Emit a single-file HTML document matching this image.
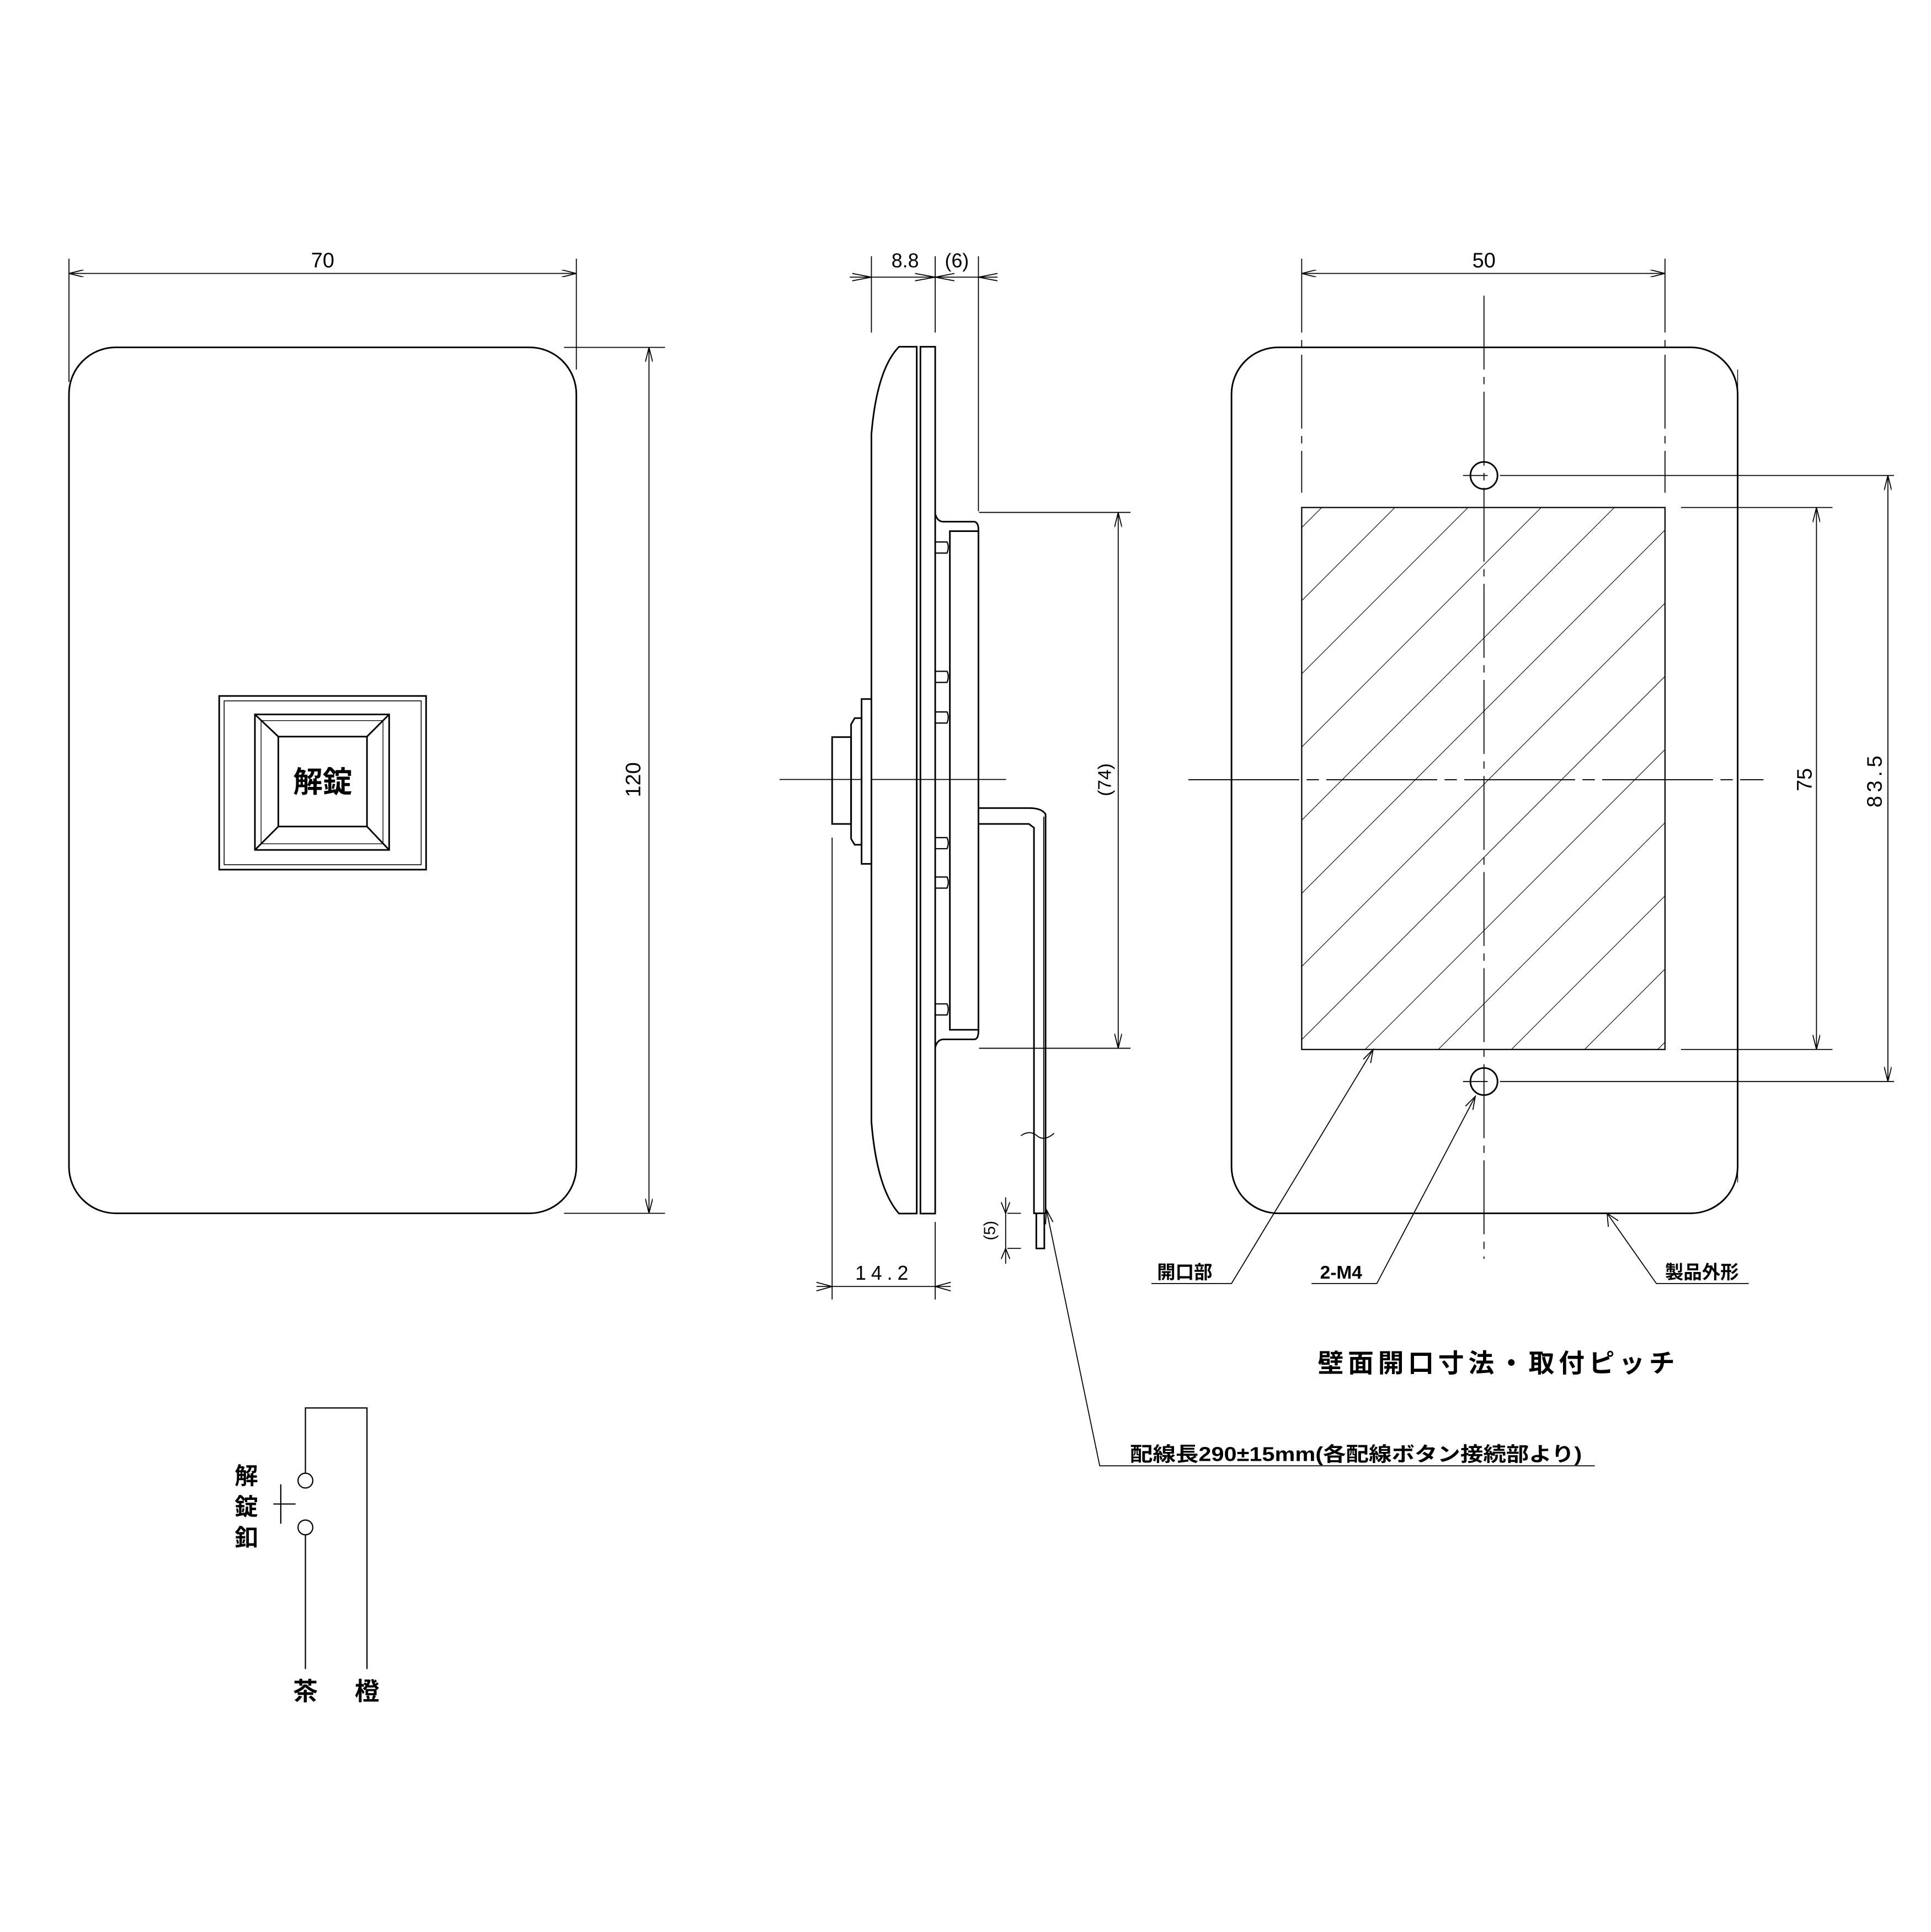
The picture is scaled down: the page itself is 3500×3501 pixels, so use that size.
<!DOCTYPE html>
<html><head><meta charset="utf-8"><style>
html,body{margin:0;padding:0;background:#fff;}
svg{display:block;}
text{font-family:"Liberation Sans","Noto Sans CJK JP",sans-serif;fill:#000;}
</style></head><body>
<svg width="3500" height="3501" viewBox="0 0 1568 1568.45" xmlns="http://www.w3.org/2000/svg">
<defs>
<marker id="a" viewBox="0 0 12 6" refX="12" refY="3" markerWidth="12" markerHeight="6" orient="auto-start-reverse" markerUnits="userSpaceOnUse"><path d="M0,0 L12,3 L0,6" fill="none" stroke="#000" stroke-width="0.8"/></marker>
<pattern id="h" patternUnits="userSpaceOnUse" width="42" height="42" patternTransform="rotate(45)"><line x1="0" y1="0" x2="0" y2="42" stroke="#000" stroke-width="1"/></pattern>
</defs>
<g fill="none" stroke="#000" stroke-width="1.3">
<!-- FRONT VIEW -->
<rect x="56" y="282" width="412" height="703" rx="38"/>
<g stroke-width="0.8">
<line x1="56" y1="210" x2="56" y2="310"/><line x1="468" y1="210" x2="468" y2="300"/>
<line x1="56" y1="222" x2="468" y2="222" marker-start="url(#a)" marker-end="url(#a)"/>
<line x1="458" y1="282" x2="540" y2="282"/><line x1="458" y1="985" x2="540" y2="985"/>
<line x1="527" y1="282" x2="527" y2="985" marker-start="url(#a)" marker-end="url(#a)"/>
</g>
<rect x="178" y="565" width="168" height="141"/>
<rect x="182" y="569" width="160" height="133" stroke-width="0.7"/>
<rect x="207" y="580" width="109" height="110"/>
<rect x="226" y="598" width="72" height="73"/>
<line x1="207" y1="580" x2="226" y2="598"/><line x1="316" y1="580" x2="298" y2="598"/>
<line x1="207" y1="690" x2="226" y2="671"/><line x1="316" y1="690" x2="298" y2="671"/>
<rect x="212" y="585" width="99" height="100" stroke-width="0.6"/>

<!-- SIDE VIEW -->
<path d="M744.4,281.5 L730,281.5 Q712,300 707.6,352.5 L707.6,910.6 Q712,965 730,985.2 L744.4,985.2 Z"/>
<rect x="747.4" y="281.5" width="12" height="703.7"/>
<path d="M759.4,417 Q761,423.5 766,423.5 L791,423.5 Q794.5,424 794.5,430 L794.5,837 Q794.5,843.8 791,843.8 L766,843.8 Q761,844 759.4,850.4"/>
<rect x="771.3" y="431.2" width="23.2" height="404.8"/>
<g stroke-width="1">
<path d="M759.4,440 L769,440 Q771,444 769,449 L759.4,449"/>
<path d="M759.4,545 L769,545 Q771,549 769,554 L759.4,554"/>
<path d="M759.4,578 L769,578 Q771,582 769,587 L759.4,587"/>
<path d="M759.4,680 L769,680 Q771,684 769,689 L759.4,689"/>
<path d="M759.4,712 L769,712 Q771,716 769,721 L759.4,721"/>
<path d="M759.4,815 L769,815 Q771,819 769,824 L759.4,824"/>
</g>
<rect x="699.6" y="567.5" width="8" height="133.8"/>
<path d="M699.6,583 L694,583 L691.1,588 L691.1,681 L694,685.8 L699.6,685.8 Z"/>
<rect x="675.7" y="598.4" width="15.4" height="70.5"/>
<path d="M794.5,656 L835.5,656 Q846,656 849,661 L849,985"/>
<path d="M794.5,668.9 L835.5,668.9 L839.6,672 L839.6,985 L849,985"/>
<line x1="847.5" y1="663" x2="847.5" y2="985" stroke-width="0.8"/>
<path d="M841.5,985 L841.5,1013.5 L848,1013.5 L848,985"/>
<path d="M829,922 Q836,917 842,922 T856,920" stroke-width="0.8"/>
<g stroke-width="0.8">
<line x1="707.6" y1="208" x2="707.6" y2="270"/>
<line x1="759.4" y1="208" x2="759.4" y2="270"/>
<line x1="794.5" y1="208" x2="794.5" y2="415"/>
<line x1="690" y1="225" x2="810" y2="225"/>
<path d="M692,222 L707.6,225 L692,228 M775,222 L759.4,225 L775,228 M743,222 L759.4,225 L743,228 M810,222 L794.5,225 L810,228"/>
<line x1="759.4" y1="992" x2="759.4" y2="1055"/>
<line x1="675.7" y1="680" x2="675.7" y2="1055"/>
<line x1="663" y1="1044.4" x2="772" y2="1044.4"/>
<path d="M663,1041 L675.7,1044.4 L663,1048 M772,1041 L759.4,1044.4 L772,1048"/>
<line x1="795" y1="416" x2="918" y2="416"/><line x1="795" y1="851" x2="918" y2="851"/>
<line x1="908" y1="416" x2="908" y2="851" marker-start="url(#a)" marker-end="url(#a)"/>
<line x1="818" y1="985" x2="829" y2="985"/><line x1="818" y1="1013.5" x2="829" y2="1013.5"/>
<line x1="816.6" y1="972" x2="816.6" y2="1026"/>
<path d="M813,976 L816.6,985 L820,976 M813,1022 L816.6,1013.5 L820,1022"/>
<line x1="633" y1="632.8" x2="700" y2="632.8"/><line x1="708" y1="632.8" x2="817" y2="632.8"/>
<path d="M849.7,982 L893,1190 L1295,1190"/>
<path d="M849,994 L849.7,982 L855,992"/>
</g>

<!-- WALL OPENING VIEW -->
<rect x="1000" y="282" width="411" height="703" rx="38"/>
<rect x="1057" y="412" width="295" height="440" fill="url(#h)" stroke-width="1"/>
<circle cx="1205" cy="386" r="11"/><circle cx="1205" cy="878" r="11"/>
<g stroke-width="0.8">
<line x1="1057" y1="210" x2="1057" y2="400" stroke-dasharray="60,6,6,6"/>
<line x1="1352" y1="210" x2="1352" y2="400" stroke-dasharray="60,6,6,6"/>
<line x1="1057" y1="222" x2="1352" y2="222" marker-start="url(#a)" marker-end="url(#a)"/>
<line x1="1205" y1="240" x2="1205" y2="1022" stroke-dasharray="60,6,6,6"/>
<line x1="965" y1="633" x2="1432" y2="633" stroke-dasharray="90,6,10,6"/>
<line x1="1365" y1="412" x2="1488" y2="412"/><line x1="1365" y1="852" x2="1488" y2="852"/>
<line x1="1475" y1="412" x2="1475" y2="852" marker-start="url(#a)" marker-end="url(#a)"/>
<line x1="1188" y1="386" x2="1545" y2="386" stroke-dasharray="20,10,300,0"/>
<line x1="1188" y1="878" x2="1545" y2="878" stroke-dasharray="20,10,300,0"/>
<line x1="1533" y1="386" x2="1533" y2="878" marker-start="url(#a)" marker-end="url(#a)"/>
<line x1="1411" y1="300" x2="1411" y2="960" stroke-dasharray="60,6,6,6" stroke-width="0.6"/>
<path d="M935,1042 L1000,1042 L1115,852"/><path d="M1107,860 L1115,852 L1113,863"/>
<path d="M1065,1042 L1118,1042 L1198,890"/><path d="M1190,898 L1198,890 L1196,901"/>
<path d="M1420,1042 L1345,1042 L1305,985"/><path d="M1306,996 L1305,985 L1314,991"/>
</g>

<!-- CIRCUIT -->
<g stroke-width="1">
<path d="M248,1196 L248,1143 L298,1143 L298,1355"/>
<circle cx="248" cy="1202" r="6"/><circle cx="248" cy="1240" r="6"/>
<line x1="248" y1="1246" x2="248" y2="1355"/>
<line x1="228" y1="1205" x2="228" y2="1237"/><line x1="222" y1="1221" x2="240" y2="1221"/>
</g>
</g>
<g font-size="17" text-anchor="middle">
<text x="262" y="217">70</text>
<text transform="translate(520,633) rotate(-90)">120</text>
<text x="262" y="643" font-size="24" font-weight="bold">解錠</text>
<text x="735" y="217" font-size="16">8.8</text>
<text x="777" y="217" font-size="16">(6)</text>
<text x="718" y="1039" font-size="16" letter-spacing="4">14.2</text>
<text transform="translate(902,633) rotate(-90)" font-size="15">(74)</text>
<text transform="translate(808,999) rotate(-90)" font-size="13">(5)</text>
<text x="1205" y="217">50</text>
<text transform="translate(1471,633) rotate(-90)">75</text>
<text transform="translate(1528,633) rotate(-90)" letter-spacing="3">83.5</text>
<text x="962" y="1038" font-size="15" font-weight="bold">開口部</text>
<text x="1089" y="1038" font-size="15" font-weight="bold">2-M4</text>
<text x="1382" y="1038" font-size="15" font-weight="bold">製品外形</text>
<text x="1215" y="1114" font-size="21" font-weight="bold" textLength="290">壁面開口寸法・取付ピッチ</text>
<text x="1101" y="1186" font-size="16" font-weight="bold" textLength="367" lengthAdjust="spacingAndGlyphs">配線長290±15mm(各配線ボタン接続部より)</text>
<text x="200" y="1205" font-size="19" font-weight="bold">解</text>
<text x="200" y="1230" font-size="19" font-weight="bold">錠</text>
<text x="200" y="1255" font-size="19" font-weight="bold">釦</text>
<text x="248" y="1380" font-size="20" font-weight="bold">茶</text>
<text x="298" y="1380" font-size="20" font-weight="bold">橙</text>
</g>
</svg>
</body></html>
